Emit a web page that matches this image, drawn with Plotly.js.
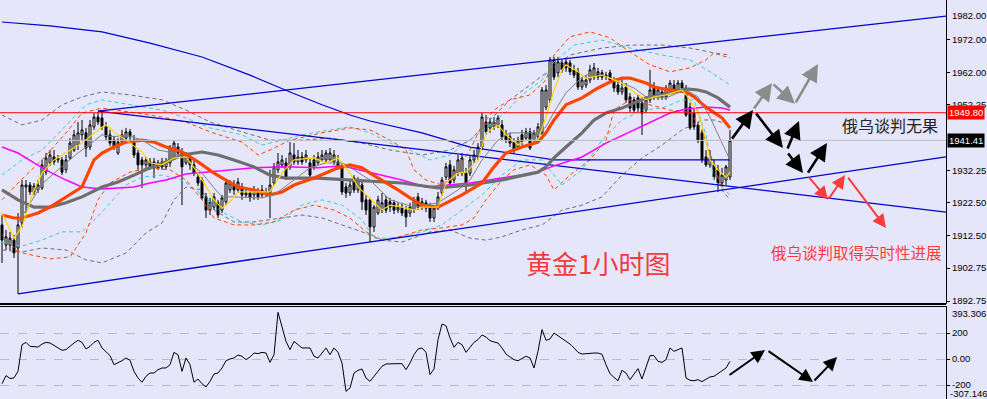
<!DOCTYPE html>
<html><head><meta charset="utf-8">
<script src="https://cdn.plot.ly/plotly-3.0.1.min.js"></script>
<style>html,body{margin:0;padding:0;background:#E6E6FA;}#chart{width:987px;height:399px;}</style>
</head><body><div id="chart"></div>
<script>
// ---- candles (1-hour gold), bar index 0..182 ----
const openP = [1915.8,1909.7,1909.7,1911.2,1908.8,1916.4,1927.3,1927.9,1925.8,1926.4,
1927.0,1931.8,1934.6,1936.4,1935.5,1935.5,1932.5,1936.1,1938.5,1940.0,
1943.1,1943.7,1939.4,1945.5,1948.5,1948.2,1945.5,1943.1,1941.5,1937.6,
1940.9,1942.1,1944.0,1941.5,1937.6,1935.5,1934.0,1934.9,1934.9,1933.1,
1934.9,1933.4,1934.6,1936.1,1939.4,1937.6,1934.6,1936.1,1934.0,1930.3,
1929.4,1924.3,1920.3,1921.2,1922.5,1920.3,1922.8,1926.4,1927.9,1926.4,
1927.3,1924.9,1925.5,1924.9,1925.8,1924.9,1925.8,1925.5,1928.5,1932.5,
1934.0,1934.6,1933.4,1937.0,1934.9,1936.4,1935.5,1934.6,1935.5,1934.6,
1935.5,1935.5,1935.5,1934.9,1934.9,1933.4,1927.3,1925.5,1930.0,1926.4,
1927.9,1923.4,1923.4,1915.2,1919.4,1920.3,1923.4,1922.8,1922.5,1920.3,
1921.2,1920.3,1919.4,1920.3,1924.3,1921.2,1922.5,1921.2,1917.9,1920.9,
1925.5,1930.3,1934.0,1929.4,1931.5,1931.5,1931.5,1931.5,1935.5,1936.4,
1939.4,1947.0,1945.2,1945.5,1946.1,1946.1,1943.1,1942.5,1940.9,1939.4,
1943.1,1942.1,1944.0,1941.5,1942.5,1943.7,1951.5,1953.7,1965.8,1961.9,
1964.9,1965.2,1964.9,1962.8,1962.2,1957.6,1958.2,1959.7,1960.6,1962.2,
1961.9,1961.2,1961.9,1959.1,1958.2,1956.1,1957.6,1954.6,1953.7,1954.3,
1952.8,1950.6,1953.7,1957.6,1954.6,1956.1,1954.6,1956.7,1958.2,1956.7,
1958.8,1955.2,1951.5,1949.7,1946.1,1943.7,1936.4,1934.0,1934.0,1932.5,
1928.5,1929.4,1930.3];
const highP = [1918.8,1914.3,1913.7,1912.8,1919.4,1929.4,1929.4,1928.8,1928.5,1929.4,
1935.5,1937.6,1938.5,1938.5,1937.0,1936.4,1937.0,1942.1,1944.6,1947.0,
1947.6,1945.2,1947.6,1949.7,1950.0,1950.0,1947.0,1944.6,1942.8,1942.1,
1944.6,1945.2,1944.9,1943.1,1938.5,1936.4,1936.4,1936.1,1936.1,1935.5,
1936.1,1936.1,1940.0,1941.5,1940.6,1939.1,1937.9,1937.0,1935.5,1931.8,
1930.3,1925.5,1924.0,1925.5,1923.4,1924.9,1929.4,1929.4,1929.4,1930.0,
1928.5,1927.0,1926.4,1927.6,1927.0,1927.9,1927.0,1932.5,1934.6,1937.6,
1937.0,1936.1,1940.9,1940.6,1938.5,1937.9,1938.5,1936.1,1937.0,1937.9,
1938.5,1938.5,1939.1,1938.5,1937.0,1934.6,1928.5,1929.4,1930.9,1930.3,
1929.4,1924.9,1924.0,1921.8,1924.6,1925.5,1924.6,1924.0,1923.4,1922.5,
1922.5,1921.5,1922.5,1924.3,1925.5,1924.0,1923.4,1922.5,1921.8,1925.8,
1930.3,1934.6,1935.5,1933.7,1937.0,1937.6,1933.1,1937.0,1938.5,1940.6,
1949.7,1949.1,1948.2,1948.5,1949.1,1947.6,1944.6,1943.7,1942.1,1942.5,
1944.6,1945.2,1945.2,1944.6,1946.7,1957.6,1958.2,1966.7,1966.7,1966.7,
1965.8,1966.4,1965.8,1964.3,1963.4,1960.6,1961.2,1964.3,1964.9,1963.4,
1962.8,1962.2,1962.8,1960.6,1959.7,1960.6,1958.8,1955.8,1954.6,1955.2,
1953.7,1954.6,1962.8,1959.1,1957.6,1957.3,1958.2,1959.7,1959.7,1959.7,
1959.7,1958.2,1952.8,1951.2,1947.0,1944.6,1938.5,1938.5,1935.5,1934.0,
1933.1,1934.0,1944.6];
const lowP = [1904.3,1908.2,1908.2,1905.8,1894.9,1914.9,1919.4,1924.9,1924.9,1925.5,
1926.4,1930.9,1933.7,1934.0,1934.6,1930.9,1931.5,1935.5,1937.9,1938.5,
1941.5,1936.4,1938.5,1944.6,1946.1,1944.6,1941.5,1939.7,1938.5,1937.0,
1940.0,1941.5,1941.5,1936.1,1932.5,1927.0,1933.1,1932.5,1930.0,1932.5,
1932.5,1932.5,1933.4,1935.5,1937.0,1921.8,1934.0,1932.5,1930.6,1927.6,
1923.4,1917.9,1918.8,1920.3,1917.9,1919.4,1921.8,1925.5,1924.9,1925.5,
1923.4,1924.0,1922.8,1923.4,1923.4,1924.0,1924.3,1917.9,1927.6,1931.5,
1933.1,1929.4,1932.5,1934.0,1934.0,1934.0,1934.6,1930.0,1932.5,1934.0,
1934.9,1934.6,1934.9,1934.0,1932.5,1924.9,1924.0,1924.6,1925.5,1925.5,
1920.3,1918.8,1910.6,1913.7,1918.8,1919.4,1919.4,1919.7,1919.1,1919.4,
1918.5,1915.2,1918.2,1919.4,1920.3,1920.3,1919.7,1916.7,1916.7,1920.3,
1924.6,1929.4,1927.6,1928.5,1930.6,1930.6,1925.8,1930.6,1934.6,1935.5,
1938.5,1943.1,1943.7,1944.6,1945.2,1941.5,1940.6,1939.4,1937.6,1938.5,
1940.0,1941.5,1938.5,1940.6,1941.5,1943.1,1950.6,1952.8,1959.7,1960.6,
1961.9,1962.2,1961.2,1960.3,1956.7,1956.7,1957.3,1958.8,1959.7,1959.7,
1959.7,1959.7,1958.8,1956.1,1955.2,1955.2,1952.8,1950.0,1949.7,1950.0,
1943.1,1949.7,1952.8,1953.7,1953.7,1953.7,1953.7,1956.1,1956.1,1955.8,
1956.1,1948.5,1944.6,1944.6,1940.6,1934.6,1933.4,1933.1,1929.4,1925.8,
1927.3,1927.9,1929.4];
const closeP = [1911.2,1912.2,1911.8,1907.3,1915.8,1927.9,1927.9,1925.8,1927.6,1927.9,
1934.0,1936.1,1937.0,1934.9,1936.1,1931.8,1935.5,1940.6,1943.1,1943.7,
1944.6,1939.1,1946.1,1948.5,1947.0,1945.5,1942.5,1940.6,1939.4,1940.9,
1943.1,1944.0,1942.5,1937.0,1934.0,1934.0,1935.5,1933.4,1933.1,1934.6,
1933.4,1934.9,1939.4,1940.6,1937.6,1933.4,1936.4,1934.0,1931.5,1928.5,
1924.0,1920.3,1922.8,1924.3,1918.8,1924.0,1928.5,1928.5,1926.4,1928.8,
1924.9,1925.5,1924.0,1926.4,1924.3,1926.4,1925.5,1927.9,1933.4,1934.9,
1935.5,1930.3,1937.6,1934.9,1936.4,1934.9,1937.0,1930.9,1933.4,1936.4,
1937.0,1937.6,1937.6,1937.0,1933.4,1925.8,1925.5,1927.9,1926.4,1929.4,
1922.8,1920.3,1915.2,1921.2,1923.4,1922.5,1920.3,1921.2,1920.3,1921.2,
1919.4,1918.2,1921.2,1923.4,1921.2,1922.8,1920.9,1917.9,1920.9,1924.3,
1929.4,1933.4,1928.5,1932.5,1935.5,1936.1,1928.5,1935.5,1937.0,1939.4,
1948.5,1944.0,1947.0,1947.0,1948.2,1942.5,1941.5,1940.6,1938.5,1941.5,
1940.9,1944.0,1939.1,1943.7,1945.5,1956.7,1956.7,1965.8,1960.6,1965.2,
1962.8,1963.4,1962.2,1961.2,1957.6,1959.7,1959.7,1962.8,1963.4,1960.6,
1960.6,1960.6,1959.7,1957.3,1956.1,1957.3,1953.7,1951.2,1950.6,1951.2,
1949.7,1953.7,1956.7,1954.6,1956.7,1954.6,1957.3,1958.8,1956.7,1958.8,
1957.3,1949.1,1945.2,1945.5,1941.5,1935.5,1934.0,1936.1,1930.3,1928.5,
1930.9,1933.4,1941.41];
const barIdx = openP.map((_, i) => i);

// ---- CCI (lower pane), one value per bar ----
const cciVals = [-190,-128,-150,-145,-95,110,128,97,95,92,
115,128,123,105,87,67,72,100,123,144,
128,77,97,128,144,85,54,26,-44,-31,
-13,8,-10,-95,-146,-179,-133,-108,-108,-82,
-69,-69,-44,51,33,-95,8,-44,-179,-154,
-190,-215,-172,-115,-108,-69,-13,0,8,31,
21,-5,15,46,41,51,46,-26,33,359,
238,136,72,136,110,85,85,85,21,8,
46,85,33,85,51,-31,-249,-223,-108,-87,
-77,-146,-172,-133,-87,-56,-38,-36,-36,-36,
-36,-82,-31,33,77,85,51,-120,-77,149,
269,256,162,90,128,110,51,92,128,149,
185,169,141,131,123,85,38,15,-5,-13,
3,21,8,-69,59,226,144,154,200,179,
154,133,115,85,51,38,41,46,46,46,
36,-44,-113,-141,-167,-87,-108,-159,-120,-74,
-154,-69,26,26,-18,-26,-5,85,59,72,
85,-146,-164,-167,-159,-174,-154,-138,-133,-113,
-95,-69,-18];

// ---- moving averages (read at sampled bars) ----
const yellowX = [0,3,5,8,10,13,20,25,26,29,31,35,37,40,43,46,49,53,55,57,59,63,67,70,73,78,81,84,87,89,92,95,97,100,103,105,109,111,114,116,119,121,124,126,129,131,134,136,138,140,141,144,146,150,152,155,158,161,163,166,170,171,174,176,177,179,181,182];
const yellowY = [1919.4,1911.8,1915.2,1926.4,1931.5,1935.5,1940.6,1945.5,1946.1,1943.1,1941.5,1937.9,1934.6,1934.0,1936.1,1936.4,1931.5,1923.4,1920.9,1922.8,1925.8,1925.8,1925.8,1931.5,1935.5,1936.1,1934.6,1936.1,1931.5,1927.3,1923.7,1920.3,1921.8,1921.2,1920.3,1921.2,1921.2,1928.5,1931.5,1931.8,1935.5,1943.7,1946.1,1943.1,1940.0,1941.5,1941.5,1948.5,1956.7,1962.8,1964.3,1962.2,1960.3,1961.2,1960.3,1958.8,1956.1,1953.7,1954.6,1955.2,1956.7,1955.2,1950.0,1941.5,1935.5,1932.5,1930.3,1931.8];
const grayThinX = [4,10,14,19,25,28,31,35,39,43,46,50,53,55,58,65,68,73,77,81,85,88,92,97,103,109,114,117,120,124,127,130,134,136,138,141,145,148,151,155,158,161,166,169,171,174,177,180,182];
const grayThinY = [1916.4,1928.2,1932.5,1937.6,1943.1,1942.5,1943.1,1941.5,1938.5,1937.6,1935.5,1931.5,1927.0,1924.3,1924.3,1924.0,1924.9,1929.4,1933.1,1934.6,1934.6,1932.5,1929.4,1923.4,1921.2,1922.5,1926.4,1929.4,1935.5,1941.5,1943.7,1943.7,1943.7,1945.5,1950.0,1955.8,1960.6,1962.2,1960.6,1958.8,1957.3,1954.6,1954.3,1955.8,1956.7,1954.6,1948.5,1940.6,1935.5];
const orangeX = [0,3,5,9,12,16,20,23,25,28,31,35,38,41,45,49,53,56,59,63,67,70,73,78,81,84,87,90,92,95,99,102,105,109,111,115,120,123,126,130,134,136,138,141,145,149,152,155,157,161,163,167,171,173,176,180,182];
const orangeY = [1918.8,1917.9,1917.9,1919.4,1921.2,1924.3,1927.3,1935.5,1937.6,1939.4,1940.9,1941.5,1940.9,1939.4,1937.9,1934.9,1931.5,1929.4,1927.3,1926.4,1924.9,1925.8,1927.9,1930.0,1931.5,1933.1,1934.0,1933.1,1931.5,1929.4,1926.4,1924.0,1921.8,1921.2,1922.5,1924.9,1928.5,1933.4,1937.6,1939.4,1940.9,1943.7,1947.6,1952.2,1954.3,1957.3,1959.1,1960.3,1960.3,1958.8,1957.6,1956.7,1956.1,1954.6,1951.5,1948.2,1945.2];
const grayThickX = [0,4,8,12,16,20,25,29,33,37,41,45,50,54,58,63,67,71,79,88,92,100,109,117,125,134,136,138,141,145,148,151,155,158,161,165,168,171,174,176,179,182];
const grayThickY = [1926.4,1923.4,1921.2,1921.2,1922.5,1924.3,1927.3,1928.8,1930.9,1933.1,1934.9,1937.0,1937.9,1937.0,1935.5,1933.4,1930.9,1930.0,1930.0,1929.4,1929.1,1928.5,1927.0,1927.9,1929.4,1931.8,1933.4,1936.1,1939.4,1943.7,1947.6,1949.7,1951.2,1952.8,1954.3,1955.2,1956.1,1957.0,1956.7,1956.1,1954.3,1951.5];
const magentaX = [0,4,8,12,16,20,25,29,33,37,41,46,54,63,71,79,85,92,100,106,117,125,134,138,145,151,158,163,167,171,176,180,182];
const magentaY = [1939.4,1937.6,1934.6,1931.8,1929.4,1927.3,1926.7,1927.0,1927.3,1928.5,1929.4,1931.2,1932.2,1933.1,1933.4,1933.1,1933.7,1931.8,1929.4,1927.3,1928.5,1930.0,1931.8,1933.7,1936.4,1940.6,1944.6,1947.6,1949.7,1950.9,1951.5,1951.2,1950.6];
const blueMaX = [0,12,25,37,50,62,72,80,87,92,105,117,130,138,160,182];
const blueMaY = [1977.3,1976.1,1974.3,1970.9,1966.7,1961.2,1956.1,1952.2,1949.1,1947.3,1943.7,1939.4,1937.0,1935.5,1935.5,1935.5];

// ---- band lines (dashed) ----
const orUpX = [0,4,10,16,20,25,32,40,46,52,60,64,67,72,80,87,92,97,101,103,106,110,113,117,120,123,127,132,136,138,142,147,152,157,162,167,172,176,178,182];
const orUpY = [1923.4,1928.5,1935.5,1943.7,1949.7,1951.2,1950.0,1948.5,1947.0,1944.0,1940.9,1937.0,1938.5,1941.5,1943.7,1945.2,1944.6,1941.5,1938.5,1932.5,1929.4,1927.9,1930.9,1938.5,1946.1,1950.6,1953.7,1955.2,1959.7,1967.3,1972.8,1974.3,1972.5,1968.2,1964.3,1962.2,1963.4,1965.8,1967.9,1967.3];
const orLoX = [0,4,12,17,21,24,27,32,37,42,46,50,53,58,63,68,73,78,83,87,91,95,100,105,110,115,118,121,125,128,132,136,138,142,147,151,153,157,162,167,172,175,178,180,182];
const orLoY = [1912.8,1907.6,1905.5,1906.1,1913.4,1923.4,1928.5,1931.8,1933.1,1932.5,1929.4,1923.4,1917.9,1915.8,1915.8,1916.7,1920.3,1921.8,1920.3,1917.9,1913.7,1911.2,1912.4,1914.3,1914.9,1915.8,1917.9,1923.4,1929.4,1932.5,1934.0,1930.9,1926.4,1930.9,1935.5,1941.5,1950.6,1953.7,1952.2,1950.6,1950.0,1944.6,1934.0,1926.4,1923.4];
const cyUpX = [0,5,10,16,21,25,32,40,46,52,60,65,70,75,82,87,92,97,102,107,112,117,122,126,130,135,138,143,150,157,165,172,177,182];
const cyUpY = [1930.9,1935.5,1938.5,1946.1,1952.2,1953.7,1952.2,1950.6,1948.2,1945.2,1943.1,1940.0,1941.5,1943.1,1944.6,1945.5,1943.7,1940.6,1938.5,1935.5,1937.0,1941.5,1946.1,1950.0,1955.2,1959.7,1965.2,1970.3,1971.8,1969.4,1967.3,1965.8,1962.2,1958.2];
const cyLoX = [0,5,10,15,20,25,31,35,40,45,50,55,60,65,70,75,80,85,90,93,98,105,110,115,120,125,130,135,140,145,150,155,160,165,170,173,176,178,182];
const cyLoY = [1910.6,1909.4,1911.2,1913.7,1913.7,1919.7,1927.9,1930.3,1930.9,1929.4,1924.9,1919.7,1916.7,1915.8,1917.3,1921.8,1923.4,1921.8,1917.3,1911.8,1911.8,1913.7,1915.8,1920.3,1924.9,1930.9,1935.5,1935.5,1927.9,1932.5,1941.5,1947.6,1950.6,1951.2,1953.7,1953.7,1943.1,1929.4,1924.9];
const gyUpX = [0,5,10,15,20,25,32,40,46,52,60,67,75,82,90,97,105,112,117,122,127,132,137,142,150,157,165,172,177,182];
const gyUpY = [1949.1,1946.1,1947.6,1952.2,1954.6,1956.1,1955.2,1953.7,1950.6,1947.0,1944.0,1941.5,1941.5,1942.1,1940.6,1938.5,1937.0,1938.5,1941.5,1947.6,1953.7,1958.2,1962.8,1967.3,1969.4,1970.3,1970.3,1969.4,1968.2,1966.4];
const gyLoX = [0,5,10,16,21,25,31,36,40,43,46,50,53,58,63,70,75,80,85,90,95,100,107,112,117,121,125,130,135,140,145,150,155,160,165,170,175,178,182];
const gyLoY = [1908.2,1907.6,1908.8,1908.2,1905.2,1904.3,1907.3,1913.4,1916.4,1923.4,1927.3,1926.4,1920.3,1916.7,1916.7,1917.9,1918.8,1917.9,1915.8,1913.7,1911.2,1910.6,1913.7,1914.3,1911.8,1911.2,1912.2,1914.3,1915.8,1920.3,1921.8,1924.3,1930.9,1936.1,1940.0,1944.6,1947.6,1947.6,1946.1];

// ---- drawn trend lines (anchor bar, price) ----
const trendTopX = [24, 236], trendTopY = [1950.3, 1979.1];
const trendDownX = [24, 236], trendDownY = [1950.3, 1919.7];
const trendLowX = [4, 236], trendLowY = [1894.9, 1936.4];
const redLevel = 1949.80;
const lastPrice = 1941.41;

// ---- axis labels ----
const priceTicks = [1972.00, 1962.00, 1952.25, 1932.25, 1922.50, 1912.50, 1902.75, 1892.75];
const priceTickText = ['1972.00','1962.00','1952.25','1932.25','1922.50','1912.50','1902.75','1892.75'];
const cciTicks = [200, 0, -200];
const cciTickText = ['200','0.00','-200'];

const LAV = '#E6E6FA';
const dash = '4px,3px';
function line(x, y, color, width, dashStyle, yaxis) {
  return {type:'scatter', mode:'lines', x:x, y:y, yaxis: yaxis || 'y', hoverinfo:'skip',
          line:{color:color, width:width, dash: dashStyle || 'solid'}};
}

const traces = [
  line(gyUpX, gyUpY, '#6E6E6E', 1, dash),
  line(gyLoX, gyLoY, '#6E6E6E', 1, dash),
  line(cyUpX, cyUpY, '#3CCFCF', 1, dash),
  line(cyLoX, cyLoY, '#3CCFCF', 1, dash),
  line(orUpX, orUpY, '#FF4500', 1, dash),
  line(orLoX, orLoY, '#FF4500', 1, dash),
  line(trendTopX, trendTopY, '#0000CD', 1.3),
  line(trendDownX, trendDownY, '#0000CD', 1.3),
  line(trendLowX, trendLowY, '#0000CD', 1.3),
  line(blueMaX, blueMaY, '#0000CD', 1.2),
  {type:'candlestick', x: barIdx, open: openP, high: highP, low: lowP, close: closeP,
   xaxis:'x', yaxis:'y', whiskerwidth:0, hoverinfo:'skip',
   increasing:{line:{color:'#000000', width:1}, fillcolor:'#FFFFFF'},
   decreasing:{line:{color:'#000000', width:1}, fillcolor:'#000000'}},
  line(magentaX, magentaY, '#FF00FF', 1.5),
  line(grayThickX, grayThickY, '#6E6E6E', 3.2),
  line(orangeX, orangeY, '#FF4500', 3.2),
  line(grayThinX, grayThinY, '#808080', 1),
  line(yellowX, yellowY, '#FFD700', 1.2),
  line(barIdx, cciVals, '#000000', 1, 'solid', 'y2')
];

function arrow(x0, y0, x1, y1, color, w, yref) {
  return {x:x1, y:y1, ax:x0, ay:y0, xref:'x', yref: yref || 'y', axref:'x', ayref: yref || 'y',
          text:'', showarrow:true, arrowhead:2, arrowsize:1.35, arrowwidth:w, arrowcolor:color, standoff:0};
}
function label(px, py, txt, font, extra) {
  return Object.assign({xref:'paper', yref:'paper', x:px, y:py, text:txt, showarrow:false,
          xanchor:'center', yanchor:'middle', font:font}, extra || {});
}
const BLK = '#000000', GRY = '#8C8C8C', RED = '#FF3C3C';
const axFont = {family:'Liberation Sans', size:9.5, color:'#000000'};
const boxFont = {family:'Liberation Sans', size:9.5, color:'#FFFFFF'};
const annotations = [
  arrow(182.25,1941.5,187.75,1950.6,BLK,2.6),
  arrow(187.75,1950.6,192.5,1958.8,GRY,2.6),
  arrow(192.5,1958.8,198.25,1952.5,GRY,2.6),
  arrow(198.25,1952.5,204,1964.6,GRY,2.6),
  arrow(188.25,1950.0,195.25,1939.1,BLK,2.6),
  arrow(196.25,1938.5,199.25,1947.3,BLK,2.6),
  arrow(196.25,1937.9,200.25,1931.5,BLK,2.6),
  arrow(201.25,1931.2,206.25,1940.6,BLK,2.6),
  arrow(201.5,1930.6,206.5,1923.4,RED,2),
  arrow(206.5,1923.4,210.75,1930.9,RED,2),
  arrow(211.25,1930.6,221,1914.9,RED,2),
  arrow(181.5,-131,190.75,69,BLK,2,'y2'),
  arrow(191.25,69,202.75,-177,BLK,2,'y2'),
  arrow(202.75,-177,208.75,15,BLK,2,'y2'),
  label(890/946, (399-125)/399, '俄乌谈判无果', {family:'Noto Sans CJK SC', size:16, color:'#222222'}),
  label(856/946, (399-252)/399, '俄乌谈判取得实时性进展', {family:'Noto Sans CJK SC', size:15.5, color:'#FF3C3C'}),
  label(598/946, (399-262)/399, '黄金1小时图', {family:'Noto Sans CJK SC', size:26, color:'#F23C3C'}),
  {xref:'paper', yref:'y', x:1, y:redLevel, xanchor:'left', yanchor:'middle', text:'1949.80', showarrow:false,
   bgcolor:'#FF0000', borderpad:1, xshift:1, font:boxFont},
  {xref:'paper', yref:'y', x:1, y:lastPrice, xanchor:'left', yanchor:'middle', text:'1941.41', showarrow:false,
   bgcolor:'#000000', borderpad:1, xshift:1, font:boxFont},
  label(1, (399-15)/399, '1982.00', axFont, {xanchor:'left', xshift:4}),
  label(1, (399-313)/399, '393.306', axFont, {xanchor:'left', xshift:4}),
  label(1, (399-393)/399, '-307.146', axFont, {xanchor:'left', xshift:2})
];

const shapes = [
  {type:'line', xref:'x', yref:'y', x0:-0.5, x1:236, y0:redLevel, y1:redLevel, line:{color:'#FF0000', width:1}},
  {type:'line', xref:'x', yref:'y', x0:-0.5, x1:236, y0:lastPrice, y1:lastPrice, line:{color:'#BEBEBE', width:1}},
  {type:'line', xref:'paper', yref:'paper', x0:0, x1:1, y0:(399-304)/399, y1:(399-304)/399, line:{color:'#000', width:2}},
  {type:'line', xref:'paper', yref:'paper', x0:0, x1:1, y0:(399-306.5)/399, y1:(399-306.5)/399, line:{color:'#000', width:1}}
];

const layout = {
  width:987, height:399, margin:{l:0, r:41, t:0, b:0},
  paper_bgcolor:LAV, plot_bgcolor:LAV, showlegend:false, hovermode:false,
  xaxis:{range:[-0.5,236], showgrid:false, zeroline:false, showticklabels:false, ticks:'',
         rangeslider:{visible:false}, anchor:'y2', showline:false},
  yaxis:{domain:[(399-304)/399, 1], range:[1891.84, 1983.96], side:'right', showgrid:false, zeroline:false,
         showline:true, linecolor:'#000', linewidth:1, ticks:'outside', ticklen:3, tickcolor:'#000',
         tickvals:priceTicks, ticktext:priceTickText, tickfont:axFont, anchor:'x'},
  yaxis2:{domain:[0, (399-306)/399], range:[-307.7, 407.7], side:'right', showgrid:true, gridcolor:'#BDBDBD',
          griddash:'dash', gridwidth:1, zeroline:false, showline:true, linecolor:'#000', linewidth:1,
          ticks:'outside', ticklen:3, tickcolor:'#000', tickvals:cciTicks, ticktext:cciTickText,
          tickfont:axFont, anchor:'x'},
  shapes:shapes, annotations:annotations
};

Plotly.newPlot('chart', traces, layout, {staticPlot:true, displayModeBar:false});
</script>
</body></html>
